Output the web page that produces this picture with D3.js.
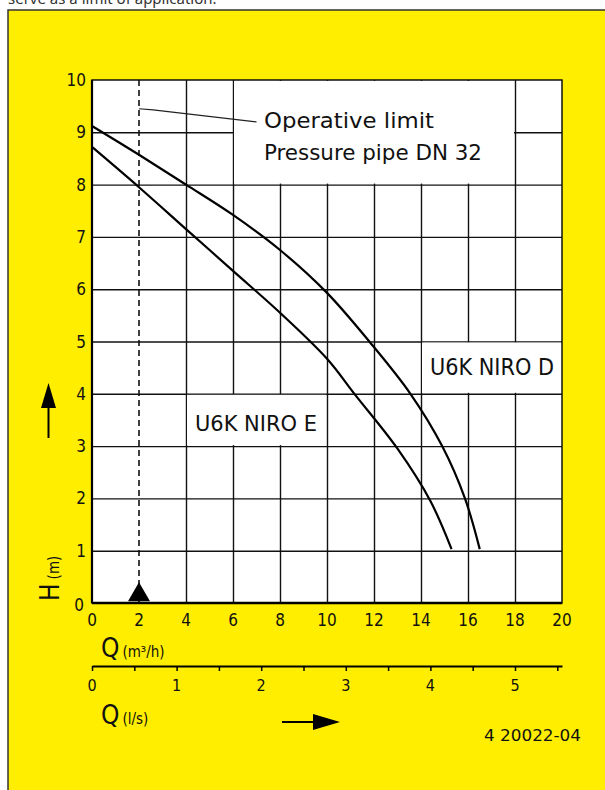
<!DOCTYPE html>
<html>
<head>
<meta charset="utf-8">
<script src="https://cdn.jsdelivr.net/npm/d3@7"></script>
<style>
  body { margin: 0; background: #fff; }
  .lbl { font-family: "DejaVu Sans Condensed", "DejaVu Sans", sans-serif; font-stretch: condensed; fill: #111; }
</style>
</head>
<body>
<svg width="605" height="790"></svg>
<script>
// flow in m3/h and head in m
const qD = [0, 2, 4, 6, 8, 10, 11.8, 13.55, 14.9, 15.87, 16.5];
const hD = [9.12, 8.57, 8.0, 7.42, 6.75, 5.93, 5.0, 4.0, 3.0, 2.0, 1.03];
const qE = [0, 2, 4, 6, 8, 10, 11.2, 13.0, 14.4, 15.3];
const hE = [8.72, 7.95, 7.15, 6.35, 5.55, 4.67, 3.98, 2.95, 1.95, 1.03];
const qTicks = [0, 2, 4, 6, 8, 10, 12, 14, 16, 18, 20];
const hTicks = [0, 1, 2, 3, 4, 5, 6, 7, 8, 9, 10];
const lsTicks = [0, 1, 2, 3, 4, 5];
const limitQ = 2;

const svg = d3.select("svg");

// page strip + yellow panel
svg.append("text")
  .attr("x", 8).attr("y", 4)
  .style("font-family", "Noto Sans, sans-serif")
  .style("font-size", "15px")
  .attr("fill", "#333")
  .text("serve as a limit of application.");
svg.append("rect")
  .attr("x", 8).attr("y", 10).attr("width", 610).attr("height", 800)
  .attr("fill", "#FFEE00").attr("stroke", "#333").attr("stroke-width", 1.5);

const x = d3.scaleLinear().domain([0, 20]).range([92, 562]);
const y = d3.scaleLinear().domain([0, 10]).range([603, 80]);
const x2 = d3.scaleLinear().domain([0, 20 / 3.6]).range([92, 562]);

const g = svg.append("g");

g.append("rect")
  .attr("x", x(0)).attr("y", y(10))
  .attr("width", x(20) - x(0)).attr("height", y(0) - y(10))
  .attr("fill", "#fff");

// grid
g.append("g")
  .attr("transform", "translate(0," + y(0) + ")")
  .call(d3.axisBottom(x).tickValues(qTicks.filter(d => d > 0 && d < 20 && d !== limitQ))
    .tickSize(-(y(0) - y(10))).tickFormat(""))
  .call(a => a.select(".domain").remove())
  .selectAll("line").attr("stroke", "#111").attr("stroke-width", 1.4);
g.append("g")
  .attr("transform", "translate(" + x(0) + ",0)")
  .call(d3.axisLeft(y).tickValues(hTicks.filter(d => d > 0 && d < 10))
    .tickSize(-(x(20) - x(0))).tickFormat(""))
  .call(a => a.select(".domain").remove())
  .selectAll("line").attr("stroke", "#111").attr("stroke-width", 1.4);

// white label boxes knock out grid
const boxes = [[6, 18, 8, 10], [14, 20, 4, 5], [4, 10, 3, 4]];
g.selectAll(".box").data(boxes).join("rect")
  .attr("x", d => x(d[0]) + 1).attr("y", d => y(d[3]) + 1)
  .attr("width", d => x(d[1]) - x(d[0]) - 2)
  .attr("height", d => y(d[2]) - y(d[3]) - 2)
  .attr("fill", "#fff");

// operative limit dashed line + marker
g.append("line")
  .attr("x1", x(limitQ)).attr("x2", x(limitQ))
  .attr("y1", y(10)).attr("y2", y(0))
  .attr("stroke", "#111").attr("stroke-width", 1.6)
  .attr("stroke-dasharray", "6,4");
g.append("path")
  .attr("d", d3.symbol(d3.symbolTriangle, 210)())
  .attr("transform", "translate(" + x(limitQ) + "," + (y(0) - 8) + ")")
  .attr("fill", "#000");

// leader line
g.append("path")
  .attr("d", d3.line()([[x(2), y(9.45)], [x(2.6), y(9.43)], [x(7), y(9.2)]]))
  .attr("fill", "none").attr("stroke", "#222").attr("stroke-width", 1.2);

// frame
g.append("rect")
  .attr("x", x(0)).attr("y", y(10))
  .attr("width", x(20) - x(0)).attr("height", y(0) - y(10))
  .attr("fill", "none").attr("stroke", "#111").attr("stroke-width", 1.5);
g.append("line").attr("x1", x(0)).attr("x2", x(0)).attr("y1", y(10)).attr("y2", y(0))
  .attr("stroke", "#000").attr("stroke-width", 2.2);
g.append("line").attr("x1", x(0)).attr("x2", x(20)).attr("y1", y(0)).attr("y2", y(0))
  .attr("stroke", "#000").attr("stroke-width", 2.5);

// curves
const line = d3.line().x(d => x(d[0])).y(d => y(d[1])).curve(d3.curveCatmullRom.alpha(0.5));
[[qD, hD], [qE, hE]].forEach(([qs, hs]) => {
  g.append("path")
    .datum(qs.map((q, i) => [q, hs[i]]))
    .attr("d", line)
    .attr("fill", "none").attr("stroke", "#000").attr("stroke-width", 2.2);
});

// tick labels
g.selectAll(".hl").data(hTicks).join("text")
  .attr("class", "lbl")
  .attr("x", d => d === 0 ? 84 : 86).attr("y", d => y(d) + (d === 0 ? 8 : 6))
  .attr("text-anchor", "end").style("font-size", "17px")
  .text(d => d);
g.selectAll(".ql").data(qTicks).join("text")
  .attr("class", "lbl")
  .attr("x", d => x(d)).attr("y", 626)
  .attr("text-anchor", "middle").style("font-size", "17px")
  .text(d => d);

// l/s axis
const ax2 = g.append("g")
  .attr("transform", "translate(0,666)")
  .call(d3.axisBottom(x2).tickValues(d3.range(0, 5.6, 0.5)).tickSize(5).tickSizeOuter(0).tickFormat(""));
ax2.select(".domain").attr("stroke", "#000").attr("stroke-width", 2);
ax2.selectAll("line").attr("stroke", "#000").attr("stroke-width", 1.5);
g.selectAll(".ll").data(lsTicks).join("text")
  .attr("class", "lbl")
  .attr("x", d => x2(d)).attr("y", 691)
  .attr("text-anchor", "middle").style("font-size", "16px")
  .text(d => d);

// axis titles
const qt1 = g.append("text").attr("class", "lbl").attr("x", 101).attr("y", 657);
qt1.append("tspan").style("font-size", "26px").text("Q");
qt1.append("tspan").attr("dx", 3).style("font-size", "15px").text("(m³/h)");
const qt2 = g.append("text").attr("class", "lbl").attr("x", 101).attr("y", 724);
qt2.append("tspan").style("font-size", "26px").text("Q");
qt2.append("tspan").attr("dx", 3).style("font-size", "15px").text("(l/s)");

const ht = g.append("text").attr("class", "lbl")
  .attr("transform", "translate(59,601) rotate(-90)");
ht.append("tspan").style("font-size", "26px").text("H");
ht.append("tspan").attr("dx", 4).style("font-size", "15px").text("(m)");

// arrows
g.append("line").attr("x1", 48.5).attr("x2", 48.5).attr("y1", 438).attr("y2", 405)
  .attr("stroke", "#000").attr("stroke-width", 2);
g.append("path").attr("d", d3.line()([[48.5, 383], [56, 408], [41, 408]]) + "Z").attr("fill", "#000");
g.append("line").attr("x1", 282).attr("x2", 316).attr("y1", 722).attr("y2", 722)
  .attr("stroke", "#000").attr("stroke-width", 2);
g.append("path").attr("d", d3.line()([[340, 722], [313, 714], [313, 730]]) + "Z").attr("fill", "#000");

// in-plot labels
const notes = [
  { t: "Operative limit", x: 264, y: 128, w: 170, s: 22 },
  { t: "Pressure pipe DN 32", x: 264, y: 160, w: 218, s: 22 },
  { t: "U6K NIRO D", x: 430, y: 375, w: 124, s: 23 },
  { t: "U6K NIRO E", x: 195, y: 431, w: 122, s: 22 }
];
g.selectAll(".note").data(notes).join("text")
  .attr("class", "lbl")
  .attr("x", d => d.x).attr("y", d => d.y)
  .attr("textLength", d => d.w).attr("lengthAdjust", "spacingAndGlyphs")
  .style("font-size", d => d.s + "px")
  .text(d => d.t);

g.append("text").attr("class", "lbl")
  .attr("x", 484).attr("y", 741)
  .attr("textLength", 97).attr("lengthAdjust", "spacingAndGlyphs")
  .style("font-size", "15px")
  .text("4 20022-04");
</script>
</body>
</html>
